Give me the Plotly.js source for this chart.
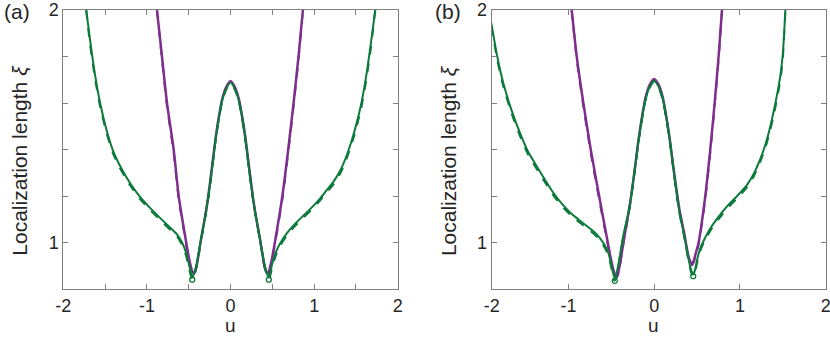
<!DOCTYPE html>
<html>
<head>
<meta charset="utf-8">
<script src="https://cdn.plot.ly/plotly-3.0.1.min.js"></script>
<style>
  html, body { margin: 0; padding: 0; background: #fff; }
  #chart { width: 830px; height: 337px; }
</style>
</head>
<body>
<div id="chart"></div>
<script>
// ---- panel (a) ----
let aPurpleU  = [-0.88, -0.82, -0.76, -0.68, -0.62, -0.53, -0.49, -0.46, -0.443, -0.425, -0.40, -0.35, -0.30, -0.27, -0.22, -0.18, -0.14, -0.10, -0.05, 0,
                 0.05, 0.10, 0.14, 0.18, 0.22, 0.27, 0.30, 0.35, 0.40, 0.425, 0.443, 0.46, 0.49, 0.53, 0.62, 0.69, 0.754, 0.813, 0.866];
let aPurpleXi = [2.0, 1.8, 1.6, 1.4, 1.2, 1.0, 0.92, 0.877, 0.866, 0.875, 0.91, 1.02, 1.12, 1.19, 1.33, 1.445, 1.54, 1.617, 1.67, 1.695,
                 1.67, 1.617, 1.54, 1.445, 1.33, 1.19, 1.12, 1.02, 0.91, 0.875, 0.866, 0.877, 0.92, 1.0, 1.2, 1.4, 1.6, 1.8, 2.0];
let aPurpleDashXi = [2.0, 1.785, 1.585, 1.385, 1.185, 0.99, 0.912, 0.871, 0.861, 0.87, 0.905, 1.015, 1.115, 1.185, 1.325, 1.44, 1.535, 1.612, 1.667, 1.692,
                 1.667, 1.612, 1.535, 1.44, 1.325, 1.185, 1.115, 1.015, 0.905, 0.87, 0.861, 0.871, 0.912, 0.99, 1.185, 1.385, 1.585, 1.785, 2.0];

let aGreenU  = [-1.726, -1.68, -1.62, -1.56, -1.48, -1.40, -1.30, -1.20, -1.08, -0.96, -0.84, -0.74, -0.64, -0.58, -0.54, -0.50, -0.475, -0.458, -0.44, -0.41, -0.35, -0.30, -0.27, -0.22, -0.18, -0.14, -0.10, -0.05, 0,
                0.05, 0.10, 0.14, 0.18, 0.22, 0.27, 0.30, 0.35, 0.41, 0.44, 0.458, 0.475, 0.50, 0.55, 0.60, 0.675, 0.77, 0.87, 0.97, 1.073, 1.15, 1.232, 1.32, 1.40, 1.48, 1.56, 1.62, 1.68, 1.731];
let aGreenXi = [2.0, 1.87, 1.72, 1.60, 1.48, 1.39, 1.315, 1.255, 1.195, 1.148, 1.105, 1.07, 1.035, 1.0, 0.965, 0.91, 0.872, 0.85, 0.862, 0.9, 1.02, 1.12, 1.185, 1.32, 1.44, 1.535, 1.61, 1.663, 1.688,
                1.663, 1.61, 1.535, 1.44, 1.32, 1.185, 1.12, 1.02, 0.9, 0.862, 0.85, 0.872, 0.91, 0.965, 1.0, 1.04, 1.08, 1.115, 1.15, 1.19, 1.225, 1.262, 1.315, 1.385, 1.475, 1.59, 1.71, 1.86, 2.0];
let aGreenDashXi = [2.0, 1.85, 1.703, 1.585, 1.467, 1.378, 1.305, 1.245, 1.186, 1.139, 1.096, 1.061, 1.026, 0.99, 0.953, 0.895, 0.857, 0.84, 0.853, 0.893, 1.015, 1.115, 1.18, 1.315, 1.435, 1.53, 1.605, 1.659, 1.684,
                1.659, 1.605, 1.53, 1.435, 1.315, 1.18, 1.115, 1.015, 0.893, 0.853, 0.84, 0.857, 0.895, 0.953, 0.99, 1.031, 1.071, 1.106, 1.141, 1.181, 1.215, 1.25, 1.302, 1.372, 1.46, 1.573, 1.69, 1.84, 2.0];
let aDipU  = [-0.458, 0.458];
let aDipXi = [0.84, 0.84];

// ---- panel (b) ----
let bPurpleU  = [-0.962, -0.903, -0.826, -0.74, -0.642, -0.541, -0.50, -0.46, -0.444, -0.425, -0.40, -0.35, -0.30, -0.27, -0.22, -0.18, -0.14, -0.10, -0.05, 0,
                 0.05, 0.10, 0.14, 0.18, 0.22, 0.27, 0.30, 0.35, 0.40, 0.425, 0.44, 0.46, 0.49, 0.518, 0.596, 0.654, 0.705, 0.751, 0.791];
let bPurpleXi = [2.0, 1.8, 1.6, 1.4, 1.2, 1.0, 0.92, 0.862, 0.85, 0.862, 0.905, 1.02, 1.125, 1.195, 1.335, 1.45, 1.545, 1.625, 1.68, 1.703,
                 1.68, 1.625, 1.545, 1.45, 1.335, 1.2, 1.13, 1.04, 0.94, 0.915, 0.907, 0.92, 0.96, 1.0, 1.2, 1.4, 1.6, 1.8, 2.0];
let bPurpleDashXi = [2.0, 1.785, 1.585, 1.385, 1.185, 0.99, 0.912, 0.856, 0.845, 0.856, 0.9, 1.015, 1.12, 1.19, 1.33, 1.445, 1.54, 1.62, 1.676, 1.7,
                 1.676, 1.62, 1.54, 1.445, 1.33, 1.195, 1.125, 1.035, 0.935, 0.91, 0.902, 0.914, 0.952, 0.99, 1.185, 1.385, 1.585, 1.785, 2.0];

let bGreenU  = [-1.9, -1.83, -1.76, -1.66, -1.565, -1.47, -1.37, -1.27, -1.176, -1.08, -0.981, -0.88, -0.786, -0.70, -0.631, -0.58, -0.534, -0.50, -0.48, -0.464, -0.445, -0.42, -0.36, -0.30, -0.27, -0.22, -0.18, -0.14, -0.10, -0.05, 0,
                0.05, 0.10, 0.14, 0.18, 0.22, 0.27, 0.30, 0.35, 0.40, 0.43, 0.455, 0.475, 0.50, 0.537, 0.58, 0.654, 0.75, 0.849, 0.96, 1.083, 1.16, 1.238, 1.30, 1.355, 1.40, 1.44, 1.472, 1.50, 1.53];
let bGreenXi = [1.946, 1.80, 1.686, 1.565, 1.471, 1.39, 1.328, 1.268, 1.214, 1.168, 1.129, 1.098, 1.071, 1.045, 1.018, 0.99, 0.955, 0.905, 0.87, 0.85, 0.862, 0.9, 1.03, 1.13, 1.195, 1.33, 1.445, 1.54, 1.618, 1.672, 1.695,
                1.672, 1.618, 1.54, 1.445, 1.33, 1.19, 1.12, 1.03, 0.93, 0.882, 0.862, 0.88, 0.925, 0.975, 1.01, 1.06, 1.11, 1.155, 1.197, 1.248, 1.295, 1.36, 1.425, 1.5, 1.575, 1.65, 1.72, 1.81, 2.0];
let bGreenDashXi = [1.93, 1.785, 1.672, 1.552, 1.458, 1.378, 1.316, 1.257, 1.203, 1.158, 1.12, 1.089, 1.062, 1.036, 1.008, 0.98, 0.944, 0.891, 0.852, 0.835, 0.848, 0.893, 1.025, 1.125, 1.19, 1.325, 1.44, 1.535, 1.613, 1.668, 1.691,
                1.668, 1.613, 1.535, 1.44, 1.325, 1.185, 1.115, 1.025, 0.922, 0.872, 0.855, 0.868, 0.912, 0.964, 1.0, 1.05, 1.1, 1.145, 1.187, 1.238, 1.284, 1.348, 1.412, 1.485, 1.558, 1.632, 1.7, 1.79, 2.0];
let bDipU  = [-0.46, 0.455];
let bDipXi = [0.835, 0.855];

let yTickVals = [0.8, 1, 1.2, 1.4, 1.6, 1.8, 2];
let yTickText = ['', '1', '', '', '', '', '2'];
let aXTickVals = [-2, -1.5, -1, -0.5, 0, 0.5, 1, 1.5, 2];
let aXTickText = ['-2', '', '-1', '', '0', '', '1', '', '2'];
let bXTickVals = [-1.895, -1, 0, 1, 2];
let bXTickText = ['-2', '-1', '0', '1', '2'];

let purple = '#7e2f8e';
let green = '#0b7a3a';

let line = function(x, y, color, dash, xa, ya, w){
	return {
	  x: x, y: y, type: 'scatter', mode: 'lines',
	  xaxis: xa, yaxis: ya,
	  line: { color: color, width: w, dash: dash, shape: 'spline', smoothing: 0.6 },
	  hoverinfo: 'skip', showlegend: false
	};
};
let dips = function(x, y, xa, ya){
	return {
	  x: x, y: y, type: 'scatter', mode: 'markers',
	  xaxis: xa, yaxis: ya,
	  marker: { symbol: 'circle-open', size: 5, color: green, line: { width: 1.3, color: green } },
	  hoverinfo: 'skip', showlegend: false
	};
};

let data = [
	line(aPurpleU, aPurpleXi, purple, 'solid', 'x', 'y', 2.5),
	line(aPurpleU, aPurpleDashXi, purple, 'dash', 'x', 'y', 2),
	line(aGreenU, aGreenXi, green, 'solid', 'x', 'y', 2),
	line(aGreenU, aGreenDashXi, green, 'dash', 'x', 'y', 2),
	dips(aDipU, aDipXi, 'x', 'y'),
	line(bPurpleU, bPurpleXi, purple, 'solid', 'x2', 'y2', 2.5),
	line(bPurpleU, bPurpleDashXi, purple, 'dash', 'x2', 'y2', 2),
	line(bGreenU, bGreenXi, green, 'solid', 'x2', 'y2', 2),
	line(bGreenU, bGreenDashXi, green, 'dash', 'x2', 'y2', 2),
	dips(bDipU, bDipXi, 'x2', 'y2')
];

let fam = 'Liberation Sans, Arial, sans-serif';
let axisFont = { family: fam, size: 18, color: '#262626' };
let titleFont = { family: fam, size: 21, color: '#262626' };
let uFont = { family: fam, size: 19, color: '#262626' };

let xBase = function(domain, range, vals, txt, anchor){
	return {
	  domain: domain, range: range, anchor: anchor,
	  tickmode: 'array', tickvals: vals, ticktext: txt,
	  ticks: 'inside', ticklen: 5, tickcolor: '#808080', tickwidth: 1,
	  showline: true, linecolor: '#808080', linewidth: 1, mirror: 'ticks',
	  showgrid: false, zeroline: false, tickfont: axisFont,
	  ticklabeloverflow: 'allow'
	};
};
let yBase = function(anchor){
	return {
	  domain: [0, 1], range: [0.8, 2], anchor: anchor,
	  tickmode: 'array', tickvals: yTickVals, ticktext: yTickText,
	  ticks: 'inside', ticklen: 5, tickcolor: '#808080', tickwidth: 1,
	  showline: true, linecolor: '#808080', linewidth: 1, mirror: 'ticks',
	  showgrid: false, zeroline: false, tickfont: axisFont,
	  ticklabeloverflow: 'allow'
	};
};

let ytitle = function(x){
	return { text: 'Localization length <i>ξ</i>', textangle: -90, xref: 'paper', yref: 'paper',
	         x: x, y: 0.46, xanchor: 'center', yanchor: 'middle', showarrow: false, font: titleFont };
};
let xtitle = function(x){
	return { text: 'u', xref: 'paper', yref: 'paper', borderpad: 0,
	         x: x, y: -0.172, xanchor: 'center', yanchor: 'bottom', showarrow: false, font: uFont };
};

let layout = {
	width: 830, height: 337,
	margin: { l: 0, r: 0, t: 10, b: 48 },
	paper_bgcolor: '#fff', plot_bgcolor: '#fff',
	xaxis: xBase([0.0763, 0.4792], [-2, 2], aXTickVals, aXTickText, 'y'),
	yaxis: yBase('x'),
	xaxis2: xBase([0.5924, 0.9948], [-1.895, 2], bXTickVals, bXTickText, 'y2'),
	yaxis2: yBase('x2'),
	annotations: [
	  ytitle(0.0241),
	  ytitle(0.5403),
	  xtitle(0.2777),
	  xtitle(0.7868),
	  { text: '(a)', xref: 'paper', yref: 'paper', x: 0.003, y: 0.993, xanchor: 'left', yanchor: 'middle', showarrow: false, font: titleFont },
	  { text: '(b)', xref: 'paper', yref: 'paper', x: 0.5213, y: 0.993, xanchor: 'left', yanchor: 'middle', showarrow: false, font: titleFont }
	]
};

Plotly.newPlot('chart', data, layout, { displayModeBar: false, staticPlot: true });
</script>
</body>
</html>
